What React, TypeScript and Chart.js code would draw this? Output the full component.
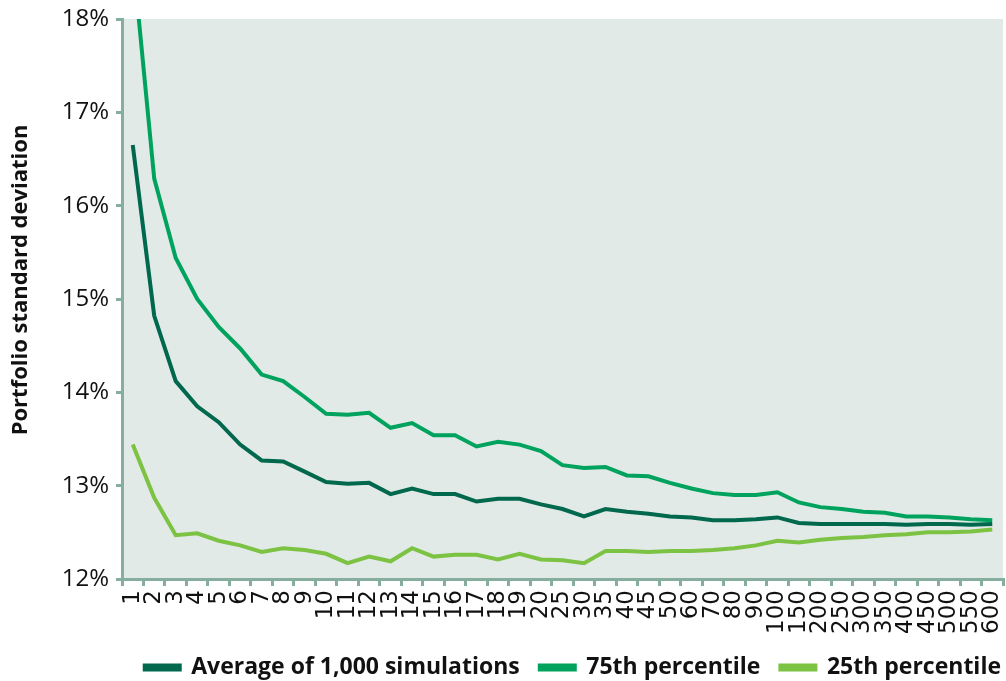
import React, { useEffect, useRef } from "react";
import { Chart, registerables } from "chart.js";

Chart.register(...registerables);

const categories = [
  "1","2","3","4","5","6","7","8","9","10","11","12","13","14","15","16","17","18","19","20",
  "25","30","35","40","45","50","60","70","80","90","100",
  "150","200","250","300","350","400","450","500","550","600",
];

const averageSeries = [
  16.65, 14.82, 14.12, 13.85, 13.68, 13.44, 13.27, 13.26, 13.15, 13.04, 13.02, 13.03, 12.91, 12.97, 12.91, 12.91, 12.83, 12.86, 12.86, 12.80,
  12.75, 12.67, 12.75, 12.72, 12.70, 12.67, 12.66, 12.63, 12.63, 12.64, 12.66,
  12.60, 12.59, 12.59, 12.59, 12.59, 12.58, 12.59, 12.59, 12.58, 12.59,
];

const p75Series = [
  18.67, 16.29, 15.44, 15.0, 14.70, 14.47, 14.19, 14.12, 13.95, 13.77, 13.76, 13.78, 13.62, 13.67, 13.54, 13.54, 13.42, 13.47, 13.44, 13.37,
  13.22, 13.19, 13.20, 13.11, 13.10, 13.03, 12.97, 12.92, 12.90, 12.90, 12.93,
  12.82, 12.77, 12.75, 12.72, 12.71, 12.67, 12.67, 12.66, 12.64, 12.63,
];

const p25Series = [
  13.44, 12.87, 12.47, 12.49, 12.41, 12.36, 12.29, 12.33, 12.31, 12.27, 12.17, 12.24, 12.19, 12.33, 12.24, 12.26, 12.26, 12.21, 12.27, 12.21,
  12.20, 12.17, 12.30, 12.30, 12.29, 12.30, 12.30, 12.31, 12.33, 12.36, 12.41,
  12.39, 12.42, 12.44, 12.45, 12.47, 12.48, 12.50, 12.50, 12.51, 12.53,
];

const seriesLabels = ["Average of 1,000 simulations", "75th percentile", "25th percentile"];
const yTitle = "Portfolio standard deviation";

const AXIS = "#86ae9e";

const bgPlugin = {
  id: "plotBg",
  beforeDraw(chart: any) {
    const { ctx, chartArea } = chart;
    if (!chartArea) return;
    ctx.save();
    ctx.fillStyle = "#e2eae7";
    ctx.fillRect(chartArea.left, chartArea.top, chartArea.right - chartArea.left, chartArea.bottom - chartArea.top);
    ctx.restore();
  },
};

const titlePlugin = {
  id: "yTitle",
  afterDraw(chart: any) {
    const { ctx } = chart;
    ctx.save();
    ctx.translate(21, 280);
    ctx.rotate(-Math.PI / 2);
    ctx.font = "bold 22px 'Open Sans'";
    ctx.fillStyle = "#111";
    ctx.textAlign = "center";
    ctx.textBaseline = "middle";
    ctx.fillText(yTitle, 0, 0);
    ctx.restore();
  },
};

export default function App() {
  const ref = useRef<HTMLCanvasElement>(null);
  useEffect(() => {
    if (!ref.current) return;
    const colors = ["#00684d", "#00a35e", "#7cc243"];
    const chart = new Chart(ref.current, {
      type: "line",
      data: {
        labels: categories,
        datasets: [averageSeries, p75Series, p25Series].map((d, i) => ({
          label: seriesLabels[i],
          data: d,
          borderColor: colors[i],
          backgroundColor: colors[i],
          borderWidth: 4,
          pointRadius: 0,
          tension: 0,
          borderJoinStyle: "miter" as const,
          yAxisID: "y",
        })),
      },
      options: {
        responsive: false,
        animation: false,
        layout: { padding: { top: 19, right: -15, left: 0, bottom: -8 } },
        plugins: {
          tooltip: { enabled: false },
          legend: {
            position: "bottom",
            align: "end",
            labels: {
              boxWidth: 35,
              boxHeight: 4,
              padding: 20,
              color: "#111",
              font: { family: "'Open Sans'", size: 23, weight: "bold" },
            },
          },
        },
        scales: {
          x: {
            offset: true,
            grid: { offset: true, drawOnChartArea: false, drawTicks: true, tickLength: 7, color: AXIS, lineWidth: 3 },
            border: { display: true, color: AXIS, width: 3 },
            ticks: {
              autoSkip: false,
              minRotation: 90,
              maxRotation: 90,
              padding: 4,
              color: "#111",
              font: { family: "'DejaVu Sans'", size: 23 },
            },
            afterFit(scale: any) {
              scale.height = 57;
              scale.paddingLeft = 0;
              scale.paddingRight = 0;
            },
          },
          y: {
            min: 12,
            max: 18,
            grid: { drawOnChartArea: false, drawTicks: true, tickLength: 6, color: AXIS, lineWidth: 3 },
            border: { display: true, color: AXIS, width: 3 },
            ticks: {
              stepSize: 1,
              padding: 7,
              color: "#111",
              font: { family: "'Open Sans'", size: 24 },
              callback: (v: any) => `${v}%`,
            },
            afterFit(scale: any) {
              scale.width = 122;
              scale.paddingTop = 0;
              scale.paddingBottom = 0;
            },
          },
          yRight: {
            position: "right",
            display: true,
            min: 12,
            max: 18,
            grid: { display: false, drawTicks: false },
            border: { display: false },
            ticks: { display: false },
            afterFit(scale: any) {
              scale.width = 18;
              scale.paddingTop = 0;
              scale.paddingBottom = 0;
            },
          },
        },
      },
      plugins: [bgPlugin, titlePlugin],
    });
    return () => chart.destroy();
  }, []);
  return (
    <div style={{ position: "absolute", left: 0, top: 0, width: 1006, height: 681 }}>
      <canvas ref={ref} width={1006} height={681} />
    </div>
  );
}
